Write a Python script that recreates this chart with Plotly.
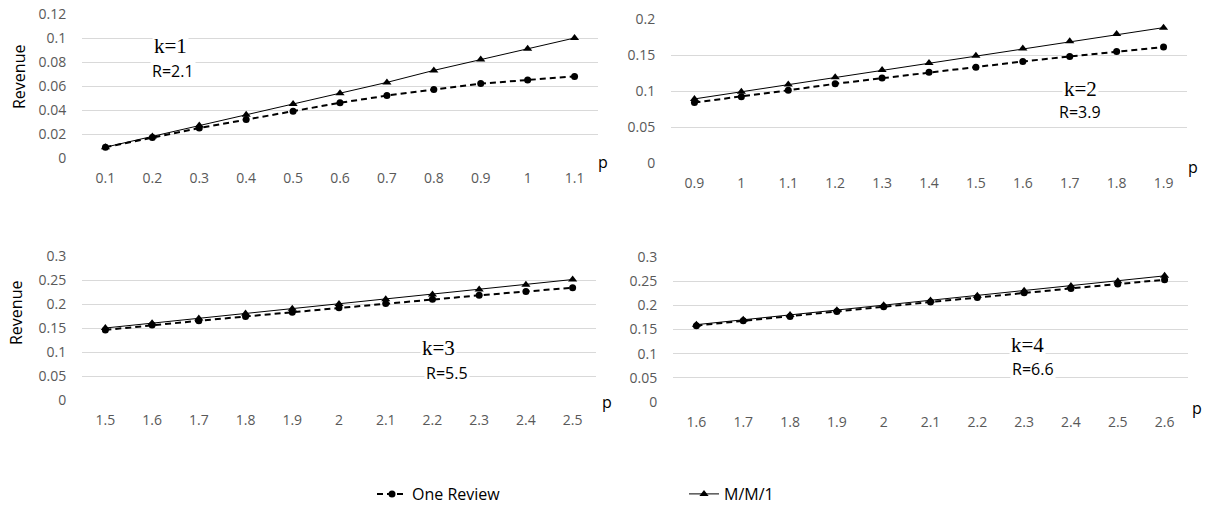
import plotly.graph_objects as go

W, H = 1208, 507

# p values (category labels) for each k
p_k1 = ["0.1", "0.2", "0.3", "0.4", "0.5", "0.6", "0.7", "0.8", "0.9", "1", "1.1"]
p_k2 = ["0.9", "1", "1.1", "1.2", "1.3", "1.4", "1.5", "1.6", "1.7", "1.8", "1.9"]
p_k3 = ["1.5", "1.6", "1.7", "1.8", "1.9", "2", "2.1", "2.2", "2.3", "2.4", "2.5"]
p_k4 = ["1.6", "1.7", "1.8", "1.9", "2", "2.1", "2.2", "2.3", "2.4", "2.5", "2.6"]

# Revenue, One Review policy
one_k1 = [0.009, 0.017, 0.025, 0.032, 0.039, 0.046, 0.052, 0.057, 0.062, 0.065, 0.068]
one_k2 = [0.084, 0.092, 0.101, 0.110, 0.118, 0.126, 0.133, 0.141, 0.148, 0.155, 0.161]
one_k3 = [0.146, 0.156, 0.165, 0.174, 0.183, 0.192, 0.201, 0.210, 0.218, 0.226, 0.234]
one_k4 = [0.158, 0.168, 0.177, 0.187, 0.197, 0.207, 0.216, 0.226, 0.235, 0.244, 0.253]

# Revenue, M/M/1 queue
mm1_k1 = [0.009, 0.018, 0.027, 0.036, 0.045, 0.054, 0.063, 0.073, 0.082, 0.091, 0.100]
mm1_k2 = [0.089, 0.099, 0.109, 0.119, 0.129, 0.139, 0.149, 0.159, 0.169, 0.179, 0.188]
mm1_k3 = [0.150, 0.160, 0.170, 0.180, 0.190, 0.200, 0.210, 0.220, 0.230, 0.240, 0.251]
mm1_k4 = [0.160, 0.170, 0.180, 0.190, 0.200, 0.210, 0.220, 0.230, 0.240, 0.250, 0.261]

k_labels = ["k=1", "k=2", "k=3", "k=4"]
r_labels = ["R=2.1", "R=3.9", "R=5.5", "R=6.6"]

SANS = "Open Sans"
SERIF = "Liberation Serif"
TICK_COLOR = "#595959"
GRID = "#d9d9d9"

# pixel boxes of each plot area: (left, right, y_of_zero, y_of_top)
boxes = [
    (82, 598, 158, 14),
    (671, 1187, 163, 19),
    (82, 596, 400, 256),
    (673, 1188, 402, 257),
]
y_ranges = [(0, 0.12, 0.02), (0, 0.2, 0.05), (0, 0.3, 0.05), (0, 0.3, 0.05)]
panels = [
    (p_k1, one_k1, mm1_k1),
    (p_k2, one_k2, mm1_k2),
    (p_k3, one_k3, mm1_k3),
    (p_k4, one_k4, mm1_k4),
]

fig = go.Figure()
layout = dict(
    width=W, height=H,
    margin=dict(l=0, r=0, t=0, b=0, autoexpand=False),
    paper_bgcolor="white", plot_bgcolor="white",
    font=dict(family=SANS, color="black"),
    annotations=[],
)

for i, ((px, one, mm1), (l, r, y0, y1), (ymin, ymax, dy)) in enumerate(zip(panels, boxes, y_ranges)):
    n = i + 1
    xa = "x" if n == 1 else f"x{n}"
    ya = "y" if n == 1 else f"y{n}"
    fig.add_trace(go.Scatter(
        x=px, y=one, xaxis=xa, yaxis=ya, name="One Review",
        mode="lines+markers",
        line=dict(color="black", width=2, dash="6px,4px"),
        marker=dict(symbol="circle", size=7, color="black"),
        showlegend=(n == 1), legend="legend",
    ))
    fig.add_trace(go.Scatter(
        x=px, y=mm1, xaxis=xa, yaxis=ya, name="M/M/1",
        mode="lines+markers",
        line=dict(color="black", width=1),
        marker=dict(symbol="triangle-up", size=8, color="black"),
        showlegend=(n == 1), legend="legend2",
    ))
    xkey = "xaxis" if n == 1 else f"xaxis{n}"
    ykey = "yaxis" if n == 1 else f"yaxis{n}"
    layout[xkey] = dict(
        domain=[l / W, r / W], anchor=ya, type="category",
        range=[-0.5, len(px) - 0.5],
        showgrid=False, zeroline=False, showline=False,
        ticks="", ticklabelstandoff=10, automargin=False,
        tickfont=dict(family=SANS, size=14, color=TICK_COLOR),
    )
    layout[ykey] = dict(
        domain=[1 - y0 / H, 1 - y1 / H], anchor=xa,
        range=[ymin, ymax], dtick=dy, tick0=0,
        showgrid=True, gridcolor=GRID, gridwidth=1,
        zeroline=False, showline=False, automargin=False,
        ticks="outside", ticklen=12, tickcolor="rgba(0,0,0,0)",
        tickfont=dict(family=SANS, size=14, color=TICK_COLOR),
    )

def ann(x, y, text, size, family=SANS, bg=None, angle=0, color="black"):
    d = dict(x=x / W, y=1 - y / H, xref="paper", yref="paper",
             text=text, showarrow=False, textangle=angle,
             font=dict(family=family, size=size, color=color),
             xanchor="center", yanchor="middle")
    if bg:
        d["bgcolor"] = bg
    layout["annotations"].append(d)

# k / R labels inside each panel
k_pos = [(170, 46), (1080, 89), (438, 348), (1027, 345)]
r_pos = [(173, 71), (1080, 112), (447, 373), (1033, 369)]
for (kx, ky), (rx, ry), kt, rt in zip(k_pos, r_pos, k_labels, r_labels):
    ann(kx, ky, kt, 21, family=SERIF, bg="white")
    ann(rx, ry, rt, 16, bg="white")

# "p" axis labels
for x, y in [(603, 162), (1193, 167), (607, 402), (1197, 408)]:
    ann(x, y, "p", 16)

# "Revenue" axis titles
ann(19, 77, "Revenue", 16, angle=-90)
ann(16, 313, "Revenue", 16, angle=-90)

legend_common = dict(
    y=1 - 494 / H, xanchor="left", yanchor="middle",
    orientation="h", bgcolor="rgba(0,0,0,0)",
    font=dict(family=SANS, size=16, color="black"),
)
layout["legend"] = dict(x=372 / W, **legend_common)
layout["legend2"] = dict(x=684 / W, **legend_common)

fig.update_layout(**layout)
fig.write_html("out.html")
